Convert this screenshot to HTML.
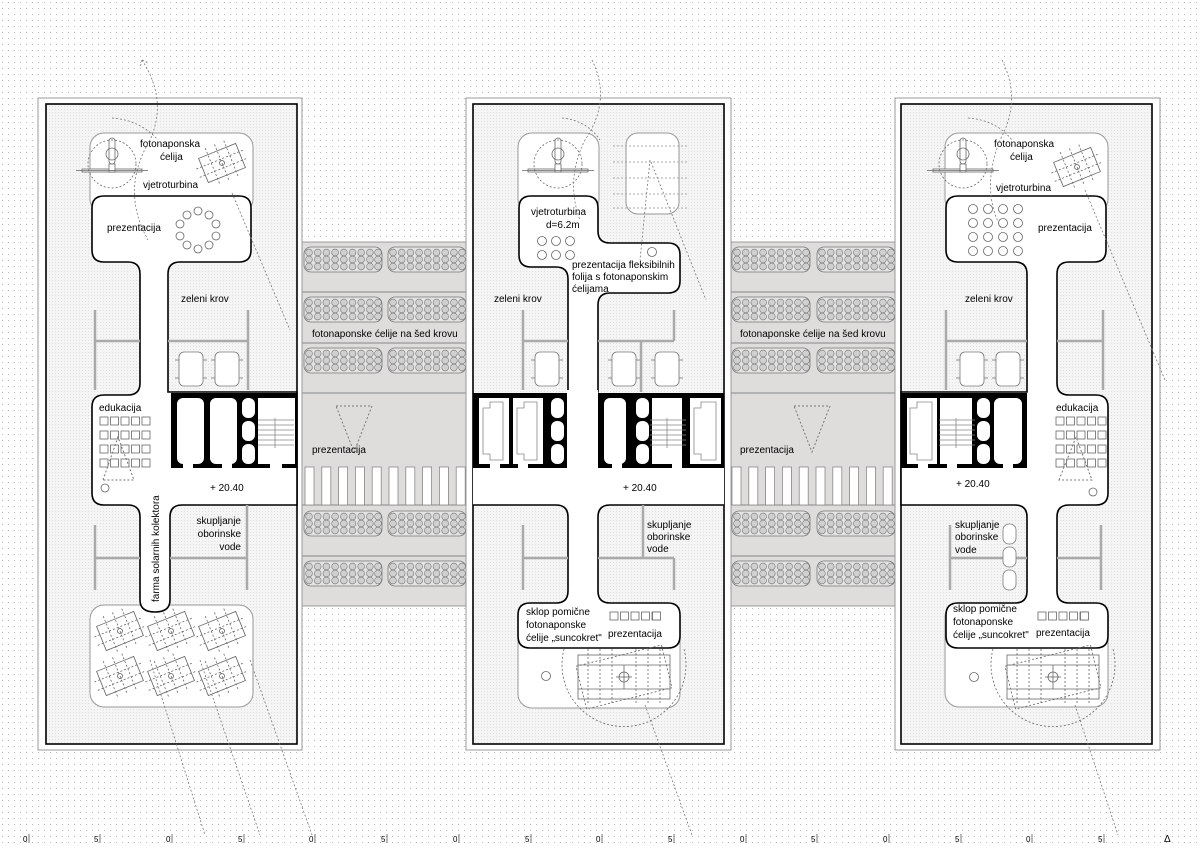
<!DOCTYPE html>
<html><head><meta charset="utf-8"><style>
html,body{margin:0;padding:0;background:#fff}
svg{display:block}
text{font-family:"Liberation Sans",sans-serif;font-size:10px;fill:#000}
</style></head><body>
<svg width="1200" height="848" viewBox="0 0 1200 848" xmlns="http://www.w3.org/2000/svg">
<defs>
<pattern id="dots" width="6" height="6" patternUnits="userSpaceOnUse"><rect x="2" y="2" width="1" height="1" fill="#b8b8b8"/></pattern>
<pattern id="tex" width="3" height="3" patternUnits="userSpaceOnUse"><rect width="3" height="3" fill="#f5f5f5"/><rect x="1" y="1" width="1" height="1" fill="#e0e0e0"/></pattern>
<g id="pv"><rect x="0" y="0" width="78" height="25" rx="7" fill="#e4e4e4" stroke="#777" stroke-width="0.8"/>
<g fill="#d0d0d0" stroke="#777" stroke-width="0.6">
<circle cx="5" cy="5.5" r="3.4"/><circle cx="13.7" cy="5.5" r="3.4"/><circle cx="22.4" cy="5.5" r="3.4"/><circle cx="31.1" cy="5.5" r="3.4"/><circle cx="39.8" cy="5.5" r="3.4"/><circle cx="48.5" cy="5.5" r="3.4"/><circle cx="57.2" cy="5.5" r="3.4"/><circle cx="65.9" cy="5.5" r="3.4"/><circle cx="74" cy="5.5" r="3.4"/>
<circle cx="5" cy="12.5" r="3.4"/><circle cx="13.7" cy="12.5" r="3.4"/><circle cx="22.4" cy="12.5" r="3.4"/><circle cx="31.1" cy="12.5" r="3.4"/><circle cx="39.8" cy="12.5" r="3.4"/><circle cx="48.5" cy="12.5" r="3.4"/><circle cx="57.2" cy="12.5" r="3.4"/><circle cx="65.9" cy="12.5" r="3.4"/><circle cx="74" cy="12.5" r="3.4"/>
<circle cx="5" cy="19.5" r="3.4"/><circle cx="13.7" cy="19.5" r="3.4"/><circle cx="22.4" cy="19.5" r="3.4"/><circle cx="31.1" cy="19.5" r="3.4"/><circle cx="39.8" cy="19.5" r="3.4"/><circle cx="48.5" cy="19.5" r="3.4"/><circle cx="57.2" cy="19.5" r="3.4"/><circle cx="65.9" cy="19.5" r="3.4"/><circle cx="74" cy="19.5" r="3.4"/>
</g></g>
<g id="slats" fill="#fff" stroke="#888" stroke-width="0.8">
<rect x="0" y="0" width="9" height="38"/><rect x="16.8" y="0" width="9" height="38"/><rect x="33.6" y="0" width="9" height="38"/><rect x="50.4" y="0" width="9" height="38"/><rect x="67.2" y="0" width="9" height="38"/><rect x="84" y="0" width="9" height="38"/><rect x="100.8" y="0" width="9" height="38"/><rect x="117.6" y="0" width="9" height="38"/><rect x="134.4" y="0" width="9" height="38"/><rect x="151.2" y="0" width="9" height="38"/></g>
<g id="coll" fill="none" stroke="#666" stroke-width="0.8"><g transform="rotate(-22)"><rect x="-20" y="-13" width="40" height="26"/><line x1="-26" y1="-4" x2="26" y2="-4" stroke-dasharray="2 2"/><line x1="-26" y1="5" x2="26" y2="5" stroke-dasharray="2 2"/><line x1="-10" y1="-20" x2="-10" y2="20" stroke-dasharray="2 2"/><line x1="0" y1="-20" x2="0" y2="20" stroke-dasharray="2 2"/><line x1="10" y1="-20" x2="10" y2="20" stroke-dasharray="2 2"/><circle r="2.5"/></g></g>
<g id="turb" fill="none" stroke="#666" stroke-width="0.8"><rect x="-3" y="-30" width="6" height="26" rx="3" fill="#fff"/><circle cx="0" cy="-14" r="6"/><rect x="-30" y="1" width="60" height="3" fill="#fff"/><rect x="-3" y="-4" width="6" height="8" fill="#fff"/><line x1="-36" y1="2.5" x2="36" y2="2.5"/><circle cx="0" cy="-4" r="24" stroke-dasharray="2 2"/></g>
<g id="car" fill="#fff" stroke="#777" stroke-width="0.8"><rect x="0" y="0" width="24" height="34" rx="5"/><line x1="-4" y1="8" x2="0" y2="8"/><line x1="-4" y1="26" x2="0" y2="26"/><line x1="24" y1="8" x2="28" y2="8"/><line x1="24" y1="26" x2="28" y2="26"/></g>
<g id="sq" fill="#fff" stroke="#666" stroke-width="0.8"><rect x="0" y="0" width="8" height="8"/><rect x="10.5" y="0" width="8" height="8"/><rect x="21" y="0" width="8" height="8"/><rect x="31.5" y="0" width="8" height="8"/><rect x="42" y="0" width="8" height="8"/></g>
<g id="stairs" stroke="#888" stroke-width="0.8"><line x1="0" y1="0" x2="36" y2="0"/><line x1="0" y1="5" x2="36" y2="5"/><line x1="0" y1="10" x2="36" y2="10"/><line x1="0" y1="15" x2="36" y2="15"/><line x1="0" y1="20" x2="36" y2="20"/><line x1="0" y1="25" x2="36" y2="25"/><line x1="17" y1="-2" x2="17" y2="28"/></g>
<g id="pills" fill="#fff"><rect x="0" y="0" width="13" height="20" rx="6"/><rect x="0" y="23" width="13" height="20" rx="6"/><rect x="0" y="46" width="13" height="20" rx="6"/></g>
<g id="sun" fill="none" stroke="#666" stroke-width="0.8"><rect x="-46" y="-22" width="92" height="44"/><line x1="-46" y1="-12" x2="46" y2="-12"/><line x1="-46" y1="12" x2="46" y2="12"/><line x1="0" y1="-12" x2="0" y2="12"/><circle r="5"/><line x1="-8" y1="0" x2="8" y2="0"/><g stroke-dasharray="2 2"><line x1="-36" y1="-28" x2="-36" y2="28"/><line x1="-24" y1="-28" x2="-24" y2="28"/><line x1="-12" y1="-28" x2="-12" y2="28"/><line x1="12" y1="-28" x2="12" y2="28"/><line x1="24" y1="-28" x2="24" y2="28"/><line x1="36" y1="-28" x2="36" y2="28"/><rect x="-44" y="-22" width="88" height="44" transform="rotate(-14)"/></g><path d="M-60,-28 A62,62 0 1 0 60,-28" stroke-dasharray="2 2"/></g>
</defs>

<rect width="1200" height="848" fill="url(#dots)"/>

<!-- bridges -->
<g>
<rect x="297" y="242" width="176" height="364" fill="#dedddc" stroke="#888" stroke-width="0.8"/>
<rect x="724" y="242" width="177" height="364" fill="#dedddc" stroke="#888" stroke-width="0.8"/>
<g stroke="#888" stroke-width="1"><line x1="297" y1="292" x2="473" y2="292"/><line x1="297" y1="343" x2="473" y2="343"/><line x1="297" y1="393" x2="473" y2="393"/><line x1="297" y1="505" x2="473" y2="505"/><line x1="297" y1="556" x2="473" y2="556"/>
<line x1="724" y1="292" x2="901" y2="292"/><line x1="724" y1="343" x2="901" y2="343"/><line x1="724" y1="393" x2="901" y2="393"/><line x1="724" y1="505" x2="901" y2="505"/><line x1="724" y1="556" x2="901" y2="556"/></g>
<use href="#pv" x="304" y="247"/><use href="#pv" x="388" y="247"/><use href="#pv" x="304" y="297"/><use href="#pv" x="388" y="297"/><use href="#pv" x="304" y="348"/><use href="#pv" x="388" y="348"/><use href="#pv" x="304" y="511"/><use href="#pv" x="388" y="511"/><use href="#pv" x="304" y="561"/><use href="#pv" x="388" y="561"/>
<use href="#pv" x="732" y="247"/><use href="#pv" x="817" y="247"/><use href="#pv" x="732" y="297"/><use href="#pv" x="817" y="297"/><use href="#pv" x="732" y="348"/><use href="#pv" x="817" y="348"/><use href="#pv" x="732" y="511"/><use href="#pv" x="817" y="511"/><use href="#pv" x="732" y="561"/><use href="#pv" x="817" y="561"/>
<use href="#slats" x="305" y="467"/><use href="#slats" x="732" y="467"/>
<g fill="none" stroke="#777" stroke-dasharray="2 2"><path d="M336,406 H372 L354,452 Z"/><path d="M794,406 H830 L812,452 Z"/></g>
<text x="312" y="337">fotonaponske ćelije na šed krovu</text><text x="740" y="337">fotonaponske ćelije na šed krovu</text>
<text x="312" y="453">prezentacija</text><text x="740" y="453">prezentacija</text>
</g>

<!-- building frames -->
<g fill="#fff" stroke="#999" stroke-width="1"><rect x="38" y="98" width="264" height="652"/><rect x="466" y="98" width="265" height="652"/><rect x="895" y="98" width="265" height="652"/></g>
<g fill="url(#tex)" stroke="#000" stroke-width="1.6"><rect x="46" y="104" width="251" height="640"/><rect x="473" y="104" width="251" height="640"/><rect x="901" y="104" width="251" height="640"/></g>

<!-- ================= B1 ================= -->
<rect x="90" y="133" width="163" height="80" rx="14" fill="#fff" stroke="#999"/>
<rect x="90" y="605" width="163" height="102" rx="14" fill="#fff" stroke="#999"/>
<path d="M104,196 H239 Q251,196 251,208 V250 Q251,262 239,262 H180 Q168,262 168,274 V392 H297 V505 H182 Q170,505 170,517 V600 Q170,612 155,612 Q140,612 140,600 V517 Q140,505 128,505 H104 Q92,505 92,493 V407 Q92,395 104,395 H128 Q140,395 140,383 V274 Q140,262 128,262 H104 Q92,262 92,250 V208 Q92,196 104,196 Z" fill="#fff" stroke="#000" stroke-width="1.6"/>
<g stroke="#aaa" stroke-width="2.5" fill="none"><line x1="95" y1="310" x2="95" y2="390"/><line x1="95" y1="341" x2="140" y2="341"/><line x1="168" y1="341" x2="248" y2="341"/><line x1="248" y1="310" x2="248" y2="390"/><line x1="95" y1="525" x2="95" y2="590"/><line x1="95" y1="558" x2="140" y2="558"/><line x1="170" y1="558" x2="247" y2="558"/><line x1="247" y1="505" x2="247" y2="590"/></g>
<use href="#car" x="179" y="352"/><use href="#car" x="215" y="352"/>
<rect x="171" y="393" width="126" height="75" fill="#000"/>
<g fill="#fff"><rect x="177" y="398" width="27" height="66" rx="6"/><rect x="210" y="398" width="27" height="66" rx="6"/><rect x="258" y="398" width="37" height="66"/><rect x="183" y="463" width="10" height="5"/><rect x="222" y="463" width="10" height="5"/><rect x="270" y="463" width="12" height="5"/></g>
<use href="#pills" x="242" y="398"/><use href="#stairs" x="258" y="420"/>
<use href="#turb" x="112" y="168"/>
<use href="#coll" x="222" y="163"/>
<g fill="#fff" stroke="#666" stroke-width="0.8"><circle cx="198" cy="211" r="4"/><circle cx="209" cy="215" r="4"/><circle cx="216" cy="224" r="4"/><circle cx="216" cy="236" r="4"/><circle cx="209" cy="245" r="4"/><circle cx="198" cy="249" r="4"/><circle cx="187" cy="245" r="4"/><circle cx="180" cy="236" r="4"/><circle cx="180" cy="224" r="4"/><circle cx="187" cy="215" r="4"/><circle cx="105" cy="488" r="4"/></g>
<use href="#sq" x="100" y="417"/><use href="#sq" x="100" y="431"/><use href="#sq" x="100" y="445"/><use href="#sq" x="100" y="459"/>
<path d="M103,480 L118,437 L134,480 Z" fill="none" stroke="#777" stroke-dasharray="2 2"/>
<use href="#coll" x="120" y="631"/><use href="#coll" x="171" y="631"/><use href="#coll" x="222" y="631"/><use href="#coll" x="120" y="676"/><use href="#coll" x="171" y="676"/><use href="#coll" x="222" y="676"/>
<text x="140" y="147">fotonaponska</text><text x="160" y="160">ćelija</text><text x="143" y="188">vjetroturbina</text><text x="107" y="231">prezentacija</text><text x="181" y="302">zeleni krov</text><text x="99" y="411">edukacija</text><text x="210" y="491">+ 20.40</text>
<text x="241" y="524" text-anchor="end">skupljanje</text><text x="241" y="537" text-anchor="end">oborinske</text><text x="241" y="550" text-anchor="end">vode</text>
<text transform="translate(159,602) rotate(-90)">farma solarnih kolektora</text>

<!-- ================= B2 ================= -->
<rect x="518" y="133" width="81" height="80" rx="14" fill="#fff" stroke="#999"/>
<rect x="626" y="133" width="53" height="81" rx="12" fill="#fff" stroke="#999"/>
<g stroke="#aaa" stroke-dasharray="2 2"><line x1="613" y1="146" x2="688" y2="146"/><line x1="613" y1="162" x2="688" y2="162"/><line x1="613" y1="178" x2="688" y2="178"/><line x1="613" y1="194" x2="688" y2="194"/><line x1="613" y1="208" x2="688" y2="208"/></g>
<rect x="518" y="605" width="162" height="103" rx="14" fill="#fff" stroke="#999"/>
<path d="M531,196 H586 Q598,196 598,208 V231 Q598,243 610,243 H668 Q680,243 680,255 V281 Q680,293 668,293 H610 Q598,293 598,305 V392 H568 V279 Q568,267 556,267 H531 Q519,267 519,255 V208 Q519,196 531,196 Z" fill="#fff" stroke="#000" stroke-width="1.6"/>
<rect x="473" y="468" width="251" height="37" fill="#fff"/>
<rect x="567" y="390" width="31" height="80" fill="#fff"/>
<path d="M473,505 H556 Q568,505 568,517 V591 Q568,603 556,603 H530 Q518,603 518,615 V636 Q518,648 530,648 H668 Q680,648 680,636 V615 Q680,603 668,603 H610 Q598,603 598,591 V517 Q598,505 610,505 H724" fill="#fff" stroke="#000" stroke-width="1.6"/>
<g stroke="#aaa" stroke-width="2.5" fill="none"><line x1="523" y1="310" x2="523" y2="390"/><line x1="523" y1="341" x2="568" y2="341"/><line x1="598" y1="341" x2="674" y2="341"/><line x1="674" y1="310" x2="674" y2="341"/><line x1="641" y1="341" x2="641" y2="392"/><line x1="523" y1="525" x2="523" y2="590"/><line x1="523" y1="558" x2="568" y2="558"/><line x1="598" y1="558" x2="674" y2="558"/><line x1="674" y1="558" x2="674" y2="590"/><line x1="643" y1="505" x2="643" y2="558"/></g>
<use href="#car" x="535" y="352"/><use href="#car" x="612" y="352"/><use href="#car" x="655" y="352"/>
<rect x="473" y="393" width="94" height="75" fill="#000"/>
<rect x="598" y="393" width="126" height="75" fill="#000"/>
<g fill="#fff"><rect x="479" y="398" width="30" height="66"/><rect x="513" y="398" width="30" height="66"/><rect x="604" y="398" width="22" height="66" rx="6"/><rect x="652" y="398" width="30" height="66"/><rect x="690" y="398" width="31" height="66"/><rect x="490" y="463" width="10" height="5"/><rect x="518" y="463" width="10" height="5"/><rect x="612" y="463" width="10" height="5"/><rect x="672" y="463" width="10" height="5"/></g>
<g fill="none" stroke="#888" stroke-width="0.8"><path d="M483,408 H490 V402 H503 V460 H490 V454 H483 Z"/><path d="M517,408 H524 V402 H537 V460 H524 V454 H517 Z"/><path d="M694,408 H701 V402 H716 V460 H701 V454 H694 Z"/></g>
<use href="#pills" x="551" y="398"/><use href="#pills" x="636" y="398"/><use href="#stairs" x="650" y="420"/>
<use href="#turb" x="558" y="168"/>
<g fill="none" stroke="#666" stroke-width="0.8"><circle cx="542" cy="241" r="4.5"/><circle cx="556" cy="241" r="4.5"/><circle cx="570" cy="241" r="4.5"/><circle cx="542" cy="255" r="4.5"/><circle cx="556" cy="255" r="4.5"/><circle cx="570" cy="255" r="4.5"/><circle cx="652" cy="252" r="4.5"/><circle cx="546" cy="676" r="4.5"/></g>
<use href="#sq" x="610" y="612"/><rect x="652.5" y="612" width="8" height="8" fill="#fff" stroke="#666" stroke-width="0.8"/>
<use href="#sun" x="624" y="677"/>
<text x="531" y="215">vjetroturbina</text><text x="546" y="228">d=6.2m</text>
<text x="572" y="268">prezentacija fleksibilnih</text><text x="572" y="280">folija s fotonaponskim</text><text x="572" y="292">ćelijama</text>
<text x="494" y="302">zeleni krov</text><text x="623" y="491">+ 20.40</text>
<text x="647" y="528">skupljanje</text><text x="647" y="540">oborinske</text><text x="647" y="552">vode</text>
<text x="526" y="615">sklop pomične</text><text x="526" y="628">fotonaponske</text><text x="526" y="641">ćelije „suncokret"</text><text x="608" y="637">prezentacija</text>

<!-- ================= B3 ================= -->
<rect x="945" y="133" width="163" height="80" rx="14" fill="#fff" stroke="#999"/>
<rect x="945" y="603" width="163" height="104" rx="14" fill="#fff" stroke="#999"/>
<path d="M958,196 H1094 Q1106,196 1106,208 V250 Q1106,262 1094,262 H1069 Q1057,262 1057,274 V383 Q1057,395 1069,395 H1096 Q1108,395 1108,407 V493 Q1108,505 1096,505 H1069 Q1057,505 1057,517 V591 Q1057,603 1069,603 H1096 Q1108,603 1108,615 V636 Q1108,648 1096,648 H958 Q946,648 946,636 V615 Q946,603 958,603 H1015 Q1027,603 1027,591 V517 Q1027,505 1015,505 H901 V392 H1027 V274 Q1027,262 1015,262 H958 Q946,262 946,250 V208 Q946,196 958,196 Z" fill="#fff" stroke="#000" stroke-width="1.6"/>
<g stroke="#aaa" stroke-width="2.5" fill="none"><line x1="946" y1="310" x2="946" y2="390"/><line x1="946" y1="341" x2="1027" y2="341"/><line x1="1057" y1="341" x2="1103" y2="341"/><line x1="1103" y1="310" x2="1103" y2="390"/><line x1="950" y1="525" x2="950" y2="590"/><line x1="950" y1="558" x2="1027" y2="558"/><line x1="1057" y1="558" x2="1101" y2="558"/><line x1="1101" y1="525" x2="1101" y2="590"/></g>
<g fill="#fff" stroke="#777" stroke-width="0.8"><rect x="1003" y="524" width="13" height="20" rx="6"/><rect x="1003" y="547" width="13" height="20" rx="6"/><rect x="1003" y="570" width="13" height="20" rx="6"/></g>
<use href="#car" x="960" y="352"/><use href="#car" x="996" y="352"/>
<rect x="901" y="393" width="126" height="75" fill="#000"/>
<g fill="#fff"><rect x="907" y="398" width="30" height="66"/><rect x="940" y="398" width="32" height="66"/><rect x="994" y="398" width="28" height="66" rx="6"/><rect x="918" y="463" width="10" height="5"/><rect x="947" y="463" width="10" height="5"/><rect x="1003" y="463" width="10" height="5"/></g>
<path d="M910,408 H917 V402 H932 V460 H917 V454 H910 Z" fill="none" stroke="#888" stroke-width="0.8"/>
<use href="#pills" x="977" y="398"/><use href="#stairs" x="939" y="420"/>
<use href="#turb" x="963" y="168"/>
<use href="#coll" x="1077" y="167"/>
<g fill="none" stroke="#666" stroke-width="0.8"><circle cx="973" cy="209" r="4.5"/><circle cx="988" cy="209" r="4.5"/><circle cx="1003" cy="209" r="4.5"/><circle cx="1018" cy="209" r="4.5"/><circle cx="973" cy="223" r="4.5"/><circle cx="988" cy="223" r="4.5"/><circle cx="1003" cy="223" r="4.5"/><circle cx="1018" cy="223" r="4.5"/><circle cx="973" cy="237" r="4.5"/><circle cx="988" cy="237" r="4.5"/><circle cx="1003" cy="237" r="4.5"/><circle cx="1018" cy="237" r="4.5"/><circle cx="973" cy="251" r="4.5"/><circle cx="988" cy="251" r="4.5"/><circle cx="1003" cy="251" r="4.5"/><circle cx="1018" cy="251" r="4.5"/><circle cx="1093" cy="492" r="4"/><circle cx="974" cy="677" r="4.5"/></g>
<use href="#sq" x="1056" y="417"/><use href="#sq" x="1056" y="431"/><use href="#sq" x="1056" y="445"/><use href="#sq" x="1056" y="459"/>
<path d="M1059,480 L1076,437 L1092,480 Z" fill="none" stroke="#777" stroke-dasharray="2 2"/>
<use href="#sq" x="1038" y="612"/><rect x="1080.5" y="612" width="8" height="8" fill="#fff" stroke="#666" stroke-width="0.8"/>
<use href="#sun" x="1053" y="677"/>
<text x="994" y="147">fotonaponska</text><text x="1010" y="160">ćelija</text><text x="996" y="191">vjetroturbina</text><text x="1038" y="231">prezentacija</text><text x="965" y="302">zeleni krov</text><text x="1056" y="411">edukacija</text><text x="956" y="487">+ 20.40</text>
<text x="955" y="528">skupljanje</text><text x="955" y="540">oborinske</text><text x="955" y="553">vode</text>
<text x="953" y="612">sklop pomične</text><text x="953" y="625">fotonaponske</text><text x="953" y="638">ćelije „suncokret"</text><text x="1036" y="636">prezentacija</text>

<!-- dotted guide lines -->
<g fill="none" stroke="#777" stroke-width="0.8" stroke-dasharray="2 2">
<path d="M142,60 Q168,100 150,140 Q120,190 148,240"/><path d="M142,60 l-2,8 M142,60 l7,3"/>
<path d="M112,118 Q140,120 158,140"/><path d="M232,193 L290,330"/>
<path d="M592,60 Q612,100 585,140 Q565,180 580,220"/><path d="M562,118 Q586,120 600,140"/>
<path d="M651,162 L706,300"/><path d="M650,160 L640,260"/>
<path d="M1002,60 Q1022,100 1000,140 Q980,190 1002,230"/><path d="M968,118 Q996,120 1012,140"/>
<path d="M1085,190 L1165,380"/>
<path d="M150,660 L205,835"/><path d="M200,660 L260,835"/><path d="M250,660 L312,835"/>
<path d="M645,705 L692,835"/><path d="M1075,705 L1118,835"/>
</g>

<!-- scale -->
<g>
<text x="23" y="842" style="font-size:8px">0</text><text x="94" y="842" style="font-size:8px">5</text><text x="166" y="842" style="font-size:8px">0</text><text x="238" y="842" style="font-size:8px">5</text><text x="309" y="842" style="font-size:8px">0</text><text x="381" y="842" style="font-size:8px">5</text><text x="453" y="842" style="font-size:8px">0</text><text x="525" y="842" style="font-size:8px">5</text><text x="596" y="842" style="font-size:8px">0</text><text x="668" y="842" style="font-size:8px">5</text><text x="740" y="842" style="font-size:8px">0</text><text x="811" y="842" style="font-size:8px">5</text><text x="883" y="842" style="font-size:8px">0</text><text x="955" y="842" style="font-size:8px">5</text><text x="1026" y="842" style="font-size:8px">0</text><text x="1098" y="842" style="font-size:8px">5</text><text x="1164" y="842" style="font-size:10px">Δ</text>
</g>
<g stroke="#555" stroke-width="0.8"><path d="M29,834v9M100,834v9M172,834v9M244,834v9M315,834v9M387,834v9M459,834v9M531,834v9M602,834v9M674,834v9M746,834v9M817,834v9M889,834v9M961,834v9M1032,834v9M1104,834v9"/></g>
</svg>
</body></html>
